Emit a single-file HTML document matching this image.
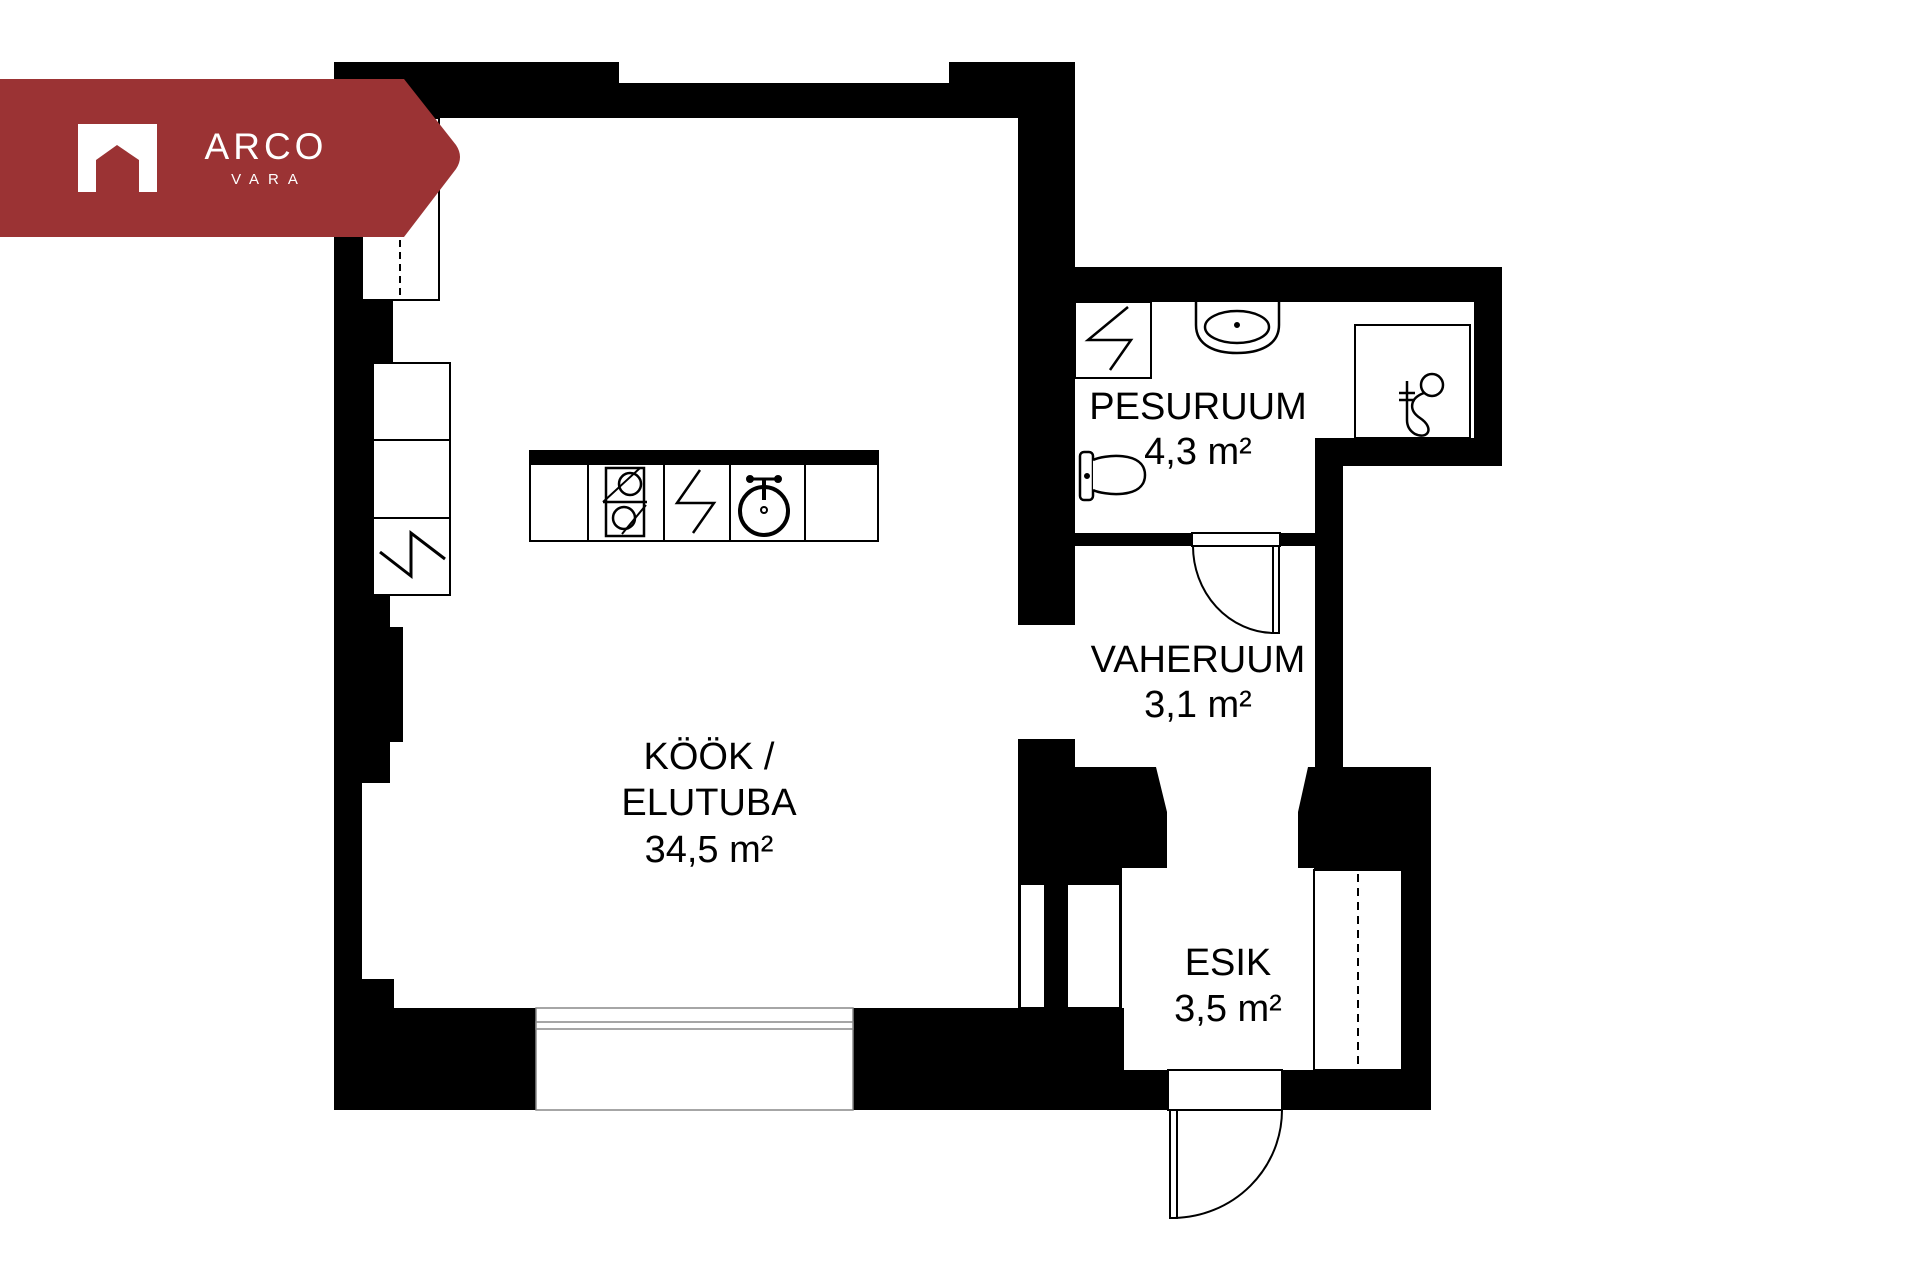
<!DOCTYPE html>
<html><head><meta charset="utf-8"><style>html,body{margin:0;padding:0;background:#fff}svg{display:block}</style></head>
<body>
<svg width="1920" height="1280" viewBox="0 0 1920 1280" xmlns="http://www.w3.org/2000/svg">
<rect width="1920" height="1280" fill="#fff"/>
<g fill="#000">
<rect x="334" y="62" width="285" height="56"/>
<rect x="619" y="83" width="330" height="35"/>
<rect x="949" y="62" width="126" height="56"/>
<rect x="1018" y="62" width="57" height="563"/>
<rect x="1073" y="267" width="429" height="35"/>
<rect x="1474" y="267" width="28" height="199"/>
<rect x="1315" y="438" width="187" height="28"/>
<rect x="1315" y="438" width="28" height="329"/>
<rect x="1073" y="533" width="242" height="13"/>
<polygon points="1018,739 1075,739 1075,767 1156,767 1167,812 1167,868 1122,868 1122,1110 1018,1110"/>
<polygon points="1308,767 1431,767 1431,1110 1282,1110 1282,1070 1314,1070 1314,868 1298,868 1298,812"/>
<rect x="334" y="1008" width="790" height="102"/>
<rect x="1120" y="1070" width="50" height="40"/>
<rect x="334" y="62" width="28" height="1048"/>
<rect x="334" y="300" width="59" height="63"/>
<rect x="334" y="363" width="39" height="232"/>
<rect x="334" y="595" width="56" height="32"/>
<rect x="334" y="627" width="69" height="115"/>
<rect x="334" y="742" width="56" height="41"/>
<rect x="334" y="979" width="60" height="30"/>
</g>
<g fill="#fff" stroke="#000" stroke-width="2">
<rect x="362" y="118" width="77" height="182"/>
<rect x="373" y="363" width="77" height="232"/>
<line x1="373" y1="440" x2="450" y2="440"/>
<line x1="373" y1="518" x2="450" y2="518"/>
<rect x="1020" y="884" width="25" height="124"/>
<rect x="1067" y="884" width="53" height="124"/>
<rect x="1314" y="870" width="88" height="200"/>
<rect x="536" y="1008" width="317" height="102" stroke="#888" stroke-width="1.5"/>
<rect x="536" y="1022" width="317" height="7" stroke="#888" stroke-width="1.5"/>
<rect x="1192" y="533" width="88" height="13"/>
<rect x="1168" y="1070" width="114" height="40"/>
</g>
<g fill="none" stroke="#000" stroke-width="2">
<line x1="400" y1="240" x2="400" y2="300" stroke-dasharray="7,5"/>
<line x1="1358" y1="874" x2="1358" y2="1068" stroke-dasharray="8,6"/>
<polyline points="380,552 411,576 411,533 445,559" stroke-width="3"/>
<rect x="530" y="451" width="348" height="13" fill="#000"/>
<rect x="530" y="464" width="348" height="77"/>
<line x1="588" y1="464" x2="588" y2="541"/>
<line x1="664" y1="464" x2="664" y2="541"/>
<line x1="730" y1="464" x2="730" y2="541"/>
<line x1="805" y1="464" x2="805" y2="541"/>
<rect x="606" y="468" width="38" height="68" stroke-width="2.5"/>
<line x1="603" y1="502" x2="647" y2="502" stroke-width="2.5"/>
<circle cx="630" cy="484" r="11" stroke-width="2.5"/>
<circle cx="624" cy="518" r="11" stroke-width="2.5"/>
<line x1="603" y1="502" x2="640" y2="468" stroke-width="2"/>
<line x1="622" y1="534" x2="646" y2="505" stroke-width="2"/>
<polyline points="700,470 677,503 714,503 693,533" stroke-width="2.5"/>
<circle cx="764" cy="511" r="24" stroke-width="4"/>
<circle cx="764" cy="510" r="3"/>
<line x1="764" y1="478" x2="764" y2="500" stroke-width="4"/>
<line x1="750" y1="479" x2="778" y2="479" stroke-width="3"/>
<circle cx="750" cy="479" r="3" fill="#000"/>
<circle cx="778" cy="479" r="3" fill="#000"/>
<rect x="1075" y="302" width="76" height="76"/>
<polyline points="1128,307 1088,340 1131,340 1110,370" stroke-width="2.5"/>
<path d="M1196,302 L1196,325 C1196,346 1216,353 1237,353 C1258,353 1279,346 1279,325 L1279,302" stroke-width="2.5"/>
<ellipse cx="1237" cy="327" rx="32" ry="16" stroke-width="2.5"/>
<circle cx="1237" cy="325" r="2" fill="#000"/>
<rect x="1355" y="325" width="115" height="113"/>
<circle cx="1432" cy="385" r="11" stroke-width="2.5"/>
<line x1="1407" y1="381" x2="1407" y2="420" stroke-width="2.5"/>
<line x1="1399" y1="393" x2="1415" y2="393" stroke-width="2.5"/>
<line x1="1399" y1="400" x2="1415" y2="400" stroke-width="2.5"/>
<path d="M1424,393 C1410,398 1408,410 1420,418 C1435,428 1428,440 1415,434 C1410,431 1407,427 1407,420" stroke-width="2.5"/>
<rect x="1080" y="452" width="13" height="48" rx="4" fill="#fff" stroke-width="2.5"/>
<path d="M1093,460 C1103,455 1145,450 1145,475 C1145,500 1103,495 1093,490" fill="#fff" stroke-width="2.5"/>
<circle cx="1087" cy="476" r="2" fill="#000"/>
<rect x="1273" y="546" width="6" height="87" fill="#fff"/>
<path d="M1193,546 A82,87 0 0 0 1273,633"/>
<rect x="1170" y="1110" width="7" height="108" fill="#fff"/>
<path d="M1282,1110 A110,108 0 0 1 1174,1218"/>
</g>
<g font-family="Liberation Sans, Arial, sans-serif" font-size="38" fill="#000" text-anchor="middle">
<text x="1198" y="419">PESURUUM</text>
<text x="1198" y="464">4,3 m²</text>
<text x="1198" y="672">VAHERUUM</text>
<text x="1198" y="717">3,1 m²</text>
<text x="1228" y="975">ESIK</text>
<text x="1228" y="1021">3,5 m²</text>
<text x="709" y="769">KÖÖK /</text>
<text x="709" y="815">ELUTUBA</text>
<text x="709" y="862">34,5 m²</text>
</g>
<path d="M0,79 L404,79 L456,145 Q464,157 456,169 L404,237 L0,237 Z" fill="#9b3334"/>
<path d="M78,124 L157,124 L157,192 L139,192 L139,160 L117,145 L96,160 L96,192 L78,192 Z" fill="#fff"/>
<text x="266" y="159" font-family="Liberation Sans, Arial, sans-serif" font-size="37" fill="#fff" text-anchor="middle" letter-spacing="4">ARCO</text>
<text x="269" y="184" font-family="Liberation Sans, Arial, sans-serif" font-size="15" fill="#fff" text-anchor="middle" letter-spacing="9">VARA</text>
</svg>
</body></html>
